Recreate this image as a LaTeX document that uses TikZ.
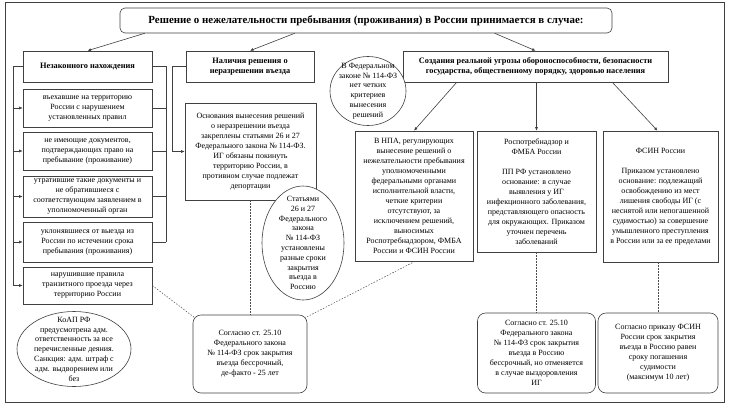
\documentclass[tikz,border=0pt]{standalone}
\usepackage{fontspec}
\setmainfont{Liberation Serif}
\usetikzlibrary{shapes.geometric,arrows.meta}
\begin{document}
\begin{tikzpicture}[x=1pt,y=-1pt,
  every node/.style={font=\fontsize{8}{10}\selectfont, align=center, inner sep=1pt},
  ln/.style={draw=black!75, line width=0.6pt},
  box/.style={draw=black!75, line width=0.6pt, fill=white},
  rbox/.style={draw=black!75, line width=0.6pt, fill=white, rounded corners=8pt},
  ell/.style={draw=black!75, line width=0.6pt, ellipse, fill=white, inner sep=0pt},
  hd/.style={font=\bfseries\fontsize{8.3}{10}\selectfont},
  arr/.style={ln, -{Latex[length=3.5pt,width=3pt]}},
  dsh/.style={draw=black!70, line width=0.5pt, dash pattern=on 1.5pt off 1.5pt},
  lbl/.style={font=\fontsize{8}{9.8}\selectfont, align=center, inner sep=0pt}
]
\useasboundingbox (0,0) rectangle (730,410);
\node[draw=black!75, line width=0.6pt, minimum width=719pt, minimum height=400pt, inner sep=0pt] (frame) at (364.5,202) {};

% title
\node[rbox, rounded corners=5pt, minimum width=492pt, minimum height=25pt,
      font=\bfseries\fontsize{10.9}{12}\selectfont] (title) at (366,20.5)
  {Решение о нежелательности пребывания (проживания) в России принимается в случае:};

% level 1
\node[box, hd, minimum width=129pt, minimum height=31pt] (ill) at (87.5,66.5) {Незаконного нахождения};
\node[box, hd, minimum width=128pt, minimum height=31pt] (nal) at (250,66.5) {Наличия решения о\\неразрешении въезда};
\node[box, hd, minimum width=265pt, minimum height=31pt] (ugr) at (535.5,66.5)
  {Создания реальной угрозы обороноспособности, безопасности\\государства, общественному порядку, здоровью населения};

\draw[arr] ([xshift=25pt]title.south west) -- (ill.north);
\draw[arr] ([xshift=175pt]title.south west) -- (nal.north);
\draw[arr] ([xshift=375pt]title.south west) -- (ugr.north);

% left column items
\node[box, minimum width=129pt, minimum height=38pt] (i1) at (87.5,108) {въехавшие на территорию\\России с нарушением\\установленных правил};
\node[box, minimum width=129pt, minimum height=38pt] (i2) at (87.5,151) {не имеющие документов,\\подтверждающих право на\\пребывание (проживание)};
\node[box, minimum width=129pt, minimum height=41pt] (i3) at (87.5,196.5) {утратившие такие документы и\\не обратившиеся с\\соответствующим заявлением в\\уполномоченный орган};
\node[box, minimum width=129pt, minimum height=40pt] (i4) at (87.5,242) {уклонявшиеся от выезда из\\России по истечении срока\\пребывания (проживания)};
\node[box, minimum width=129pt, minimum height=37pt] (i5) at (87.5,285.5) {нарушившие правила\\транзитного проезда через\\территорию России};

\coordinate (lt) at (13,66.5);
\draw[ln] (ill.west) -- (lt) -- (lt |- i5.west);
\foreach \n in {i1,i2,i3,i4,i5} \draw[arr] (lt |- \n.west) -- (\n.west);
\coordinate (rt) at (166,66.5);
\draw[ln] (ill.east) -- (rt) -- (rt |- i4.east);
\foreach \n in {i1,i2,i3,i4} \draw[ln] (rt |- \n.east) -- (\n.east);

\node[ell, minimum width=114pt, minimum height=75pt,
  label={[lbl]center:{КоАП РФ\\предусмотрена адм.\\ответственность за все\\перечисленные деяния.\\Санкция: адм. штраф с\\адм. выдворением или\\без}}] (koap) at (74,349) {};

% middle column
\node[box, minimum width=131pt, minimum height=97pt] (osn) at (250.5,151.5)
  {Основания вынесения решений\\о неразрешении въезда\\закреплены статьями 26 и 27\\Федерального закона № 114-ФЗ.\\ИГ обязаны покинуть\\территорию России, в\\противном случае подлежат\\депортации};
\coordinate (nl) at (172,66.5);
\draw[ln] (nal.west) -- (nl);
\draw[arr] (nl) |- (osn.west);

\node[ell, minimum width=82pt, minimum height=114pt,
  label={[lbl]center:{Статьями\\26 и 27\\Федерального\\закона\\№ 114-ФЗ\\установлены\\разные сроки\\закрытия\\въезда в\\Россию}}] (stat) at (303,243) {};

\node[rbox, minimum width=114pt, minimum height=78pt] (sogl1) at (250,354)
  {Согласно ст. 25.10\\Федерального закона\\№ 114-ФЗ срок закрытия\\въезда бессрочный,\\де-факто - 25 лет};

% right part
\node[ell, minimum width=76pt, minimum height=69pt,
  label={[lbl]center:{В Федеральном\\законе № 114-ФЗ\\нет четких\\критериев\\вынесения\\решений}}] (fz) at (368,91) {};

\node[box, minimum width=118pt, minimum height=130pt] (npa) at (414,196)
  {В НПА, регулирующих\\вынесение решений о\\нежелательности пребывания\\уполномоченными\\федеральными органами\\исполнительной власти,\\четкие критерии\\отсутствуют, за\\исключением решений,\\выносимых\\Роспотребнадзором, ФМБА\\России и ФСИН России};
\node[box, minimum width=119pt, minimum height=121pt] (ros) at (536.5,191.5)
  {Роспотребнадзор и\\ФМБА России\\[10pt]ПП РФ установлено\\основание: в случае\\выявления у ИГ\\инфекционного заболевания,\\представляющего опасность\\для окружающих. Приказом\\уточнен перечень\\заболеваний};
\node[box, minimum width=115pt, minimum height=131pt] (fsin) at (660.5,196.5)
  {ФСИН России\\[10pt]Приказом установлено\\основание: подлежащий\\освобождению из мест\\лишения свободы ИГ (с\\неснятой или непогашенной\\судимостью) за совершение\\умышленного преступления\\в России или за ее пределами};

\draw[arr] ([xshift=54pt]ugr.south west) -- (npa.north);
\draw[arr] (ros.north |- ugr.south) -- (ros.north);
\draw[arr] ([xshift=-56pt]ugr.south east) -- ([xshift=-3pt]fsin.north);

\node[rbox, minimum width=118pt, minimum height=80pt] (sogl2) at (536.5,353)
  {Согласно ст. 25.10\\Федерального закона\\№ 114-ФЗ срок закрытия\\въезда в Россию\\бессрочный, но отменяется\\в случае выздоровления\\ИГ};
\node[rbox, minimum width=120pt, minimum height=80pt] (sogl3) at (658,353)
  {Согласно приказу ФСИН\\России срок закрытия\\въезда в Россию равен\\сроку погашения\\судимости\\(максимум 10 лет)};

% dashed links
\draw[dsh] (i5.east) -- ([xshift=2pt,yshift=-3pt]sogl1.north west);
\draw[dsh] (osn.south) -- (osn.south |- sogl1.north);
\draw[dsh] ([xshift=1pt]npa.south) -- ([xshift=-2pt,yshift=-3pt]sogl1.north east);
\draw[dsh] (ros.south) -- (ros.south |- sogl2.north);
\draw[dsh] ([xshift=-2.5pt]fsin.south) -- ([xshift=-2.5pt]fsin.south |- sogl3.north);
\end{tikzpicture}
\end{document}
